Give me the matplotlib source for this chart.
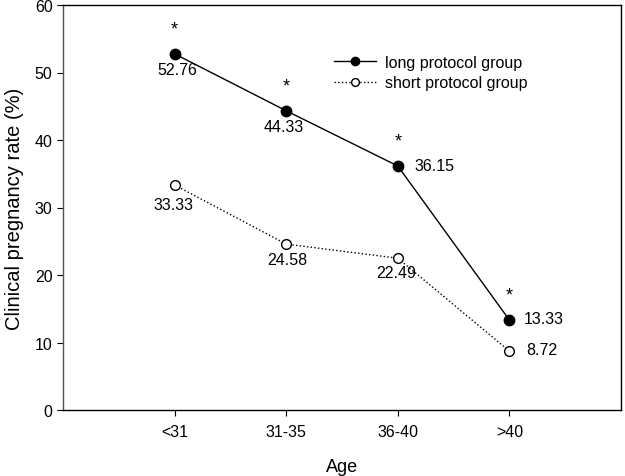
import matplotlib.pyplot as plt

plt.rcParams['font.family'] = ['Liberation Sans', 'DejaVu Sans']

grupos_edad = ['<31', '31-35', '36-40', '>40']
largo = [52.76, 44.33, 36.15, 13.33]
corto = [33.33, 24.58, 22.49, 8.72]

# posicion de etiquetas: (dx, dy) en puntos y alineacion horizontal
off_largo = [(2, -11, 'center'), (-2, -11, 'center'), (12, 0, 'left'), (10, 1, 'left')]
off_corto = [(-1, -14, 'center'), (1, -11, 'center'), (-1, -10, 'center'), (12, 1, 'left')]

x = [1, 2, 3, 4]

fig = plt.figure(figsize=(6.25, 4.77), dpi=100)
ax = fig.add_axes([63/625, 1 - 411/477, 558/625, 405/477])

ax.plot(x, largo, color='black', linewidth=1, marker='o', markersize=7.5,
        markerfacecolor='black', label='long protocol group')
ax.plot(x, corto, color='black', linewidth=1, linestyle=':', marker='o', markersize=7,
        markerfacecolor='white', label='short protocol group')

for xi, v, (dx, dy, ha) in zip(x, largo, off_largo):
    ax.annotate(f'{v:.2f}', (xi, v), xytext=(dx, dy), textcoords='offset points',
                ha=ha, va='center', fontsize=11.5)
    ax.annotate('*', (xi, v), xytext=(0, 18), textcoords='offset points',
                ha='center', va='center', fontsize=13)
for xi, v, (dx, dy, ha) in zip(x, corto, off_corto):
    ax.annotate(f'{v:.2f}', (xi, v), xytext=(dx, dy), textcoords='offset points',
                ha=ha, va='center', fontsize=11.5)

ax.set_xlim(0, 5)
ax.set_ylim(0, 60)
ax.set_xticks(x)
ax.set_xticklabels(grupos_edad)
ax.set_yticks(range(0, 61, 10))
ax.tick_params(direction='out', labelsize=11.5, length=4.5, pad=5.5)
ax.tick_params(axis='y', pad=3)
ax.set_xlabel('Age', fontsize=13, labelpad=14)
ax.set_ylabel('Clinical pregnancy rate (%)', fontsize=14.5, labelpad=8)

for s in ax.spines.values():
    s.set_linewidth(1)
ax.spines['left'].set_color('#555555')

ax.legend(loc='center left', bbox_to_anchor=(0.46, 0.833), frameon=False,
          fontsize=11.5, handlelength=2.6, handletextpad=0.6, labelspacing=0.35,
          markerscale=0.8)

plt.savefig('out.png', dpi=100)
